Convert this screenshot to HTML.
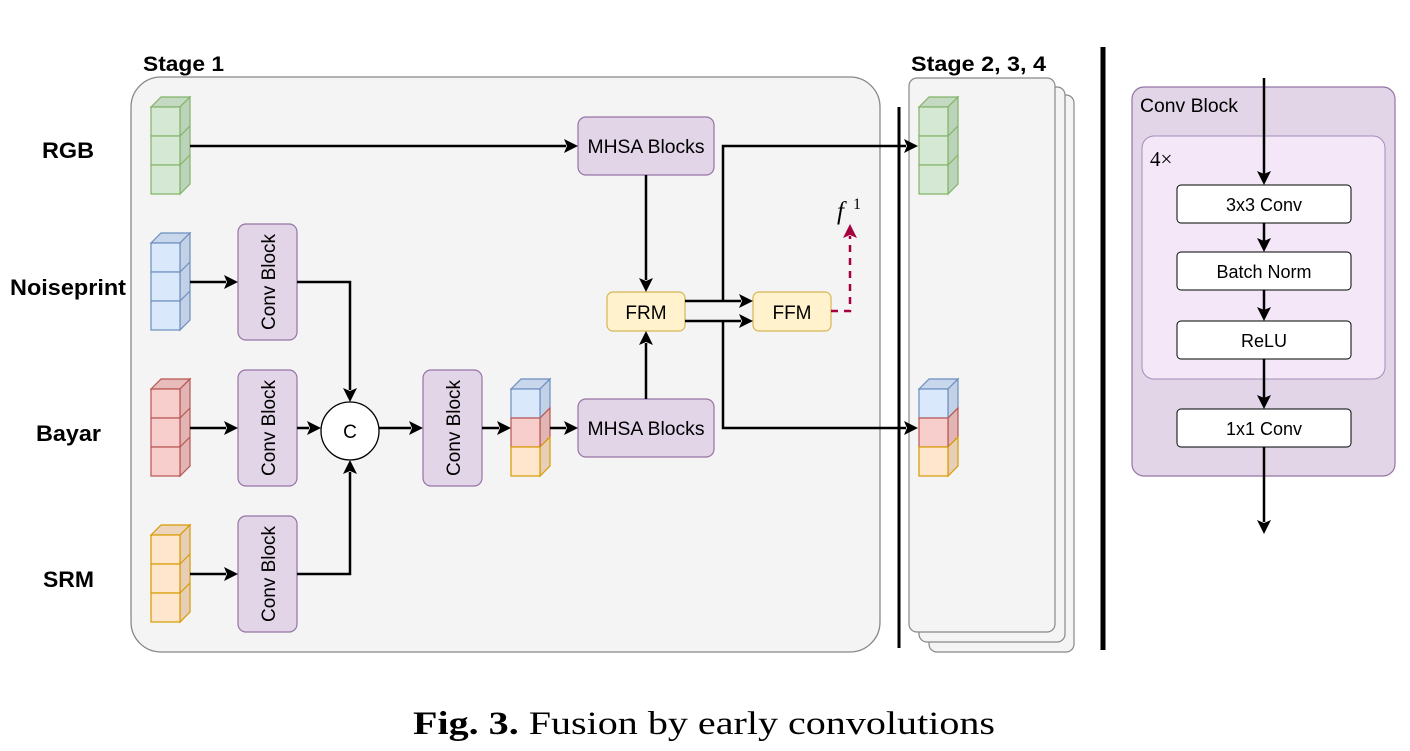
<!DOCTYPE html>
<html><head><meta charset="utf-8"><style>
html,body{margin:0;padding:0;background:#fff;}
svg{display:block;}
</style></head><body>
<svg width="1410" height="751" viewBox="0 0 1410 751" xmlns="http://www.w3.org/2000/svg" font-family="Liberation Sans, sans-serif">
<rect width="1410" height="751" fill="#fff"/>
<text x="143" y="71" font-size="21" font-weight="bold" textLength="81" lengthAdjust="spacingAndGlyphs">Stage 1</text>
<rect x="131" y="77" width="749" height="575" rx="30" fill="#f4f4f4" stroke="#888" stroke-width="1.3"/>
<text x="911" y="71" font-size="21" font-weight="bold" textLength="135" lengthAdjust="spacingAndGlyphs">Stage 2, 3, 4</text>
<rect x="929" y="95" width="145" height="557" rx="8" fill="#f4f4f4" stroke="#888" stroke-width="1.2"/>
<rect x="919" y="87" width="146" height="555" rx="8" fill="#f4f4f4" stroke="#888" stroke-width="1.2"/>
<rect x="909" y="78" width="146" height="554" rx="8" fill="#f4f4f4" stroke="#888" stroke-width="1.2"/>
<line x1="899" y1="107" x2="899" y2="648" stroke="#000" stroke-width="3"/>
<line x1="1103" y1="47" x2="1103" y2="650" stroke="#000" stroke-width="5"/>

<g font-size="22" font-weight="bold">
<text x="42" y="158" textLength="52" lengthAdjust="spacingAndGlyphs">RGB</text>
<text x="10" y="295" textLength="116" lengthAdjust="spacingAndGlyphs">Noiseprint</text>
<text x="36" y="441" textLength="65" lengthAdjust="spacingAndGlyphs">Bayar</text>
<text x="43" y="587" textLength="51" lengthAdjust="spacingAndGlyphs">SRM</text>
</g>

<g stroke-width="1.2">
<g transform="translate(151,107)" fill="#d5e8d4" stroke="#82b366">
<polygon points="0,0 10,-10 39,-10 29,0" fill="#c3d9c2"/><polygon points="29,0 39,-10 39,77 29,87" fill="#bcd3bb"/>
<rect x="0" y="0" width="29" height="29"/><rect x="0" y="29" width="29" height="29"/><rect x="0" y="58" width="29" height="29"/>
<line x1="29" y1="29" x2="39" y2="19"/><line x1="29" y1="58" x2="39" y2="48"/></g>
<g transform="translate(151,243)" fill="#dae8fc" stroke="#6c8ebf">
<polygon points="0,0 10,-10 39,-10 29,0" fill="#c8d7ec"/><polygon points="29,0 39,-10 39,77 29,87" fill="#c3d1e6"/>
<rect x="0" y="0" width="29" height="29"/><rect x="0" y="29" width="29" height="29"/><rect x="0" y="58" width="29" height="29"/>
<line x1="29" y1="29" x2="39" y2="19"/><line x1="29" y1="58" x2="39" y2="48"/></g>
<g transform="translate(151,389)" fill="#f8cecc" stroke="#b85450">
<polygon points="0,0 10,-10 39,-10 29,0" fill="#e8bcbb"/><polygon points="29,0 39,-10 39,77 29,87" fill="#e0b5b4"/>
<rect x="0" y="0" width="29" height="29"/><rect x="0" y="29" width="29" height="29"/><rect x="0" y="58" width="29" height="29"/>
<line x1="29" y1="29" x2="39" y2="19"/><line x1="29" y1="58" x2="39" y2="48"/></g>
<g transform="translate(151,535)" fill="#ffe6cc" stroke="#d79b00">
<polygon points="0,0 10,-10 39,-10 29,0" fill="#ecd5bc"/><polygon points="29,0 39,-10 39,77 29,87" fill="#e6cfb6"/>
<rect x="0" y="0" width="29" height="29"/><rect x="0" y="29" width="29" height="29"/><rect x="0" y="58" width="29" height="29"/>
<line x1="29" y1="29" x2="39" y2="19"/><line x1="29" y1="58" x2="39" y2="48"/></g>
<g transform="translate(919,107)" fill="#d5e8d4" stroke="#82b366">
<polygon points="0,0 10,-10 39,-10 29,0" fill="#c3d9c2"/><polygon points="29,0 39,-10 39,77 29,87" fill="#bcd3bb"/>
<rect x="0" y="0" width="29" height="29"/><rect x="0" y="29" width="29" height="29"/><rect x="0" y="58" width="29" height="29"/>
<line x1="29" y1="29" x2="39" y2="19"/><line x1="29" y1="58" x2="39" y2="48"/></g>
</g>
<g stroke-width="1.2">
<g transform="translate(511,389)">
<polygon points="0,0 10,-10 39,-10 29,0" fill="#c8d7ec" stroke="#6c8ebf"/>
<polygon points="29,0 39,-10 39,19 29,29" fill="#c3d1e6" stroke="#6c8ebf"/>
<polygon points="29,29 39,19 39,48 29,58" fill="#e0b5b4" stroke="#b85450"/>
<polygon points="29,58 39,48 39,77 29,87" fill="#e6cfb6" stroke="#d79b00"/>
<rect x="0" y="0" width="29" height="29" fill="#dae8fc" stroke="#6c8ebf"/>
<rect x="0" y="29" width="29" height="29" fill="#f8cecc" stroke="#b85450"/>
<rect x="0" y="58" width="29" height="29" fill="#ffe6cc" stroke="#d79b00"/></g>
<g transform="translate(919,389)">
<polygon points="0,0 10,-10 39,-10 29,0" fill="#c8d7ec" stroke="#6c8ebf"/>
<polygon points="29,0 39,-10 39,19 29,29" fill="#c3d1e6" stroke="#6c8ebf"/>
<polygon points="29,29 39,19 39,48 29,58" fill="#e0b5b4" stroke="#b85450"/>
<polygon points="29,58 39,48 39,77 29,87" fill="#e6cfb6" stroke="#d79b00"/>
<rect x="0" y="0" width="29" height="29" fill="#dae8fc" stroke="#6c8ebf"/>
<rect x="0" y="29" width="29" height="29" fill="#f8cecc" stroke="#b85450"/>
<rect x="0" y="58" width="29" height="29" fill="#ffe6cc" stroke="#d79b00"/></g>
</g>

<g fill="#e1d5e7" stroke="#9673a6" stroke-width="1.2">
<rect x="238" y="224" width="59" height="116" rx="8"/>
<rect x="238" y="370" width="59" height="116" rx="8"/>
<rect x="238" y="516" width="59" height="116" rx="8"/>
<rect x="423" y="370" width="59" height="116" rx="8"/>
<rect x="578" y="117" width="136" height="58" rx="8"/>
<rect x="578" y="399" width="136" height="58" rx="8"/>
</g>
<g font-size="19" text-anchor="middle">
<text transform="translate(275,282) rotate(-90)" textLength="96" lengthAdjust="spacingAndGlyphs">Conv Block</text>
<text transform="translate(275,428) rotate(-90)" textLength="96" lengthAdjust="spacingAndGlyphs">Conv Block</text>
<text transform="translate(275,574) rotate(-90)" textLength="96" lengthAdjust="spacingAndGlyphs">Conv Block</text>
<text transform="translate(460,428) rotate(-90)" textLength="96" lengthAdjust="spacingAndGlyphs">Conv Block</text>
<text x="646" y="153" textLength="117" lengthAdjust="spacingAndGlyphs">MHSA Blocks</text>
<text x="646" y="435" textLength="117" lengthAdjust="spacingAndGlyphs">MHSA Blocks</text>
</g>
<circle cx="350" cy="431" r="29" fill="#fff" stroke="#000" stroke-width="1.3"/>
<text x="350" y="438" font-size="19" text-anchor="middle">C</text>
<g fill="#fff2cc" stroke="#d6b656" stroke-width="1.2">
<rect x="607" y="292" width="78" height="39" rx="6"/>
<rect x="753" y="292" width="78" height="39" rx="6"/>
</g>
<g font-size="19" text-anchor="middle">
<text x="646" y="319">FRM</text><text x="792" y="319">FFM</text>
</g>

<g stroke="#000" stroke-width="2.5" fill="none">
<path d="M190,146 H566"/>
<path d="M190,282 H226"/>
<path d="M190,428 H226"/>
<path d="M190,574 H226"/>
<path d="M297,282 H350 V390"/>
<path d="M297,574 H350 V472"/>
<path d="M297,428 H309"/>
<path d="M379,428 H411"/>
<path d="M482,428 H499"/>
<path d="M550,428 H566"/>
<path d="M646,175 V280"/>
<path d="M646,399 V343"/>
<path d="M685,301 H741"/>
<path d="M685,321 H741"/>
<path d="M723,301 V146 H906"/>
<path d="M723,321 V428 H906"/>
</g>
<g fill="#000">
<polygon points="578,146 564,139 567,146 564,153"/>
<polygon points="238,282 224,275 227,282 224,289"/>
<polygon points="238,428 224,421 227,428 224,435"/>
<polygon points="238,574 224,567 227,574 224,581"/>
<polygon points="321,428 307,421 310,428 307,435"/>
<polygon points="423,428 409,421 412,428 409,435"/>
<polygon points="511,428 497,421 500,428 497,435"/>
<polygon points="578,428 564,421 567,428 564,435"/>
<polygon points="350,402 343,388 350,391 357,388"/>
<polygon points="350,460 343,474 350,471 357,474"/>
<polygon points="646,292 639,278 646,281 653,278"/>
<polygon points="646,331 639,345 646,342 653,345"/>
<polygon points="753,301 739,294 742,301 739,308"/>
<polygon points="753,321 739,314 742,321 739,328"/>
<polygon points="918,146 904,139 907,146 904,153"/>
<polygon points="918,428 904,421 907,428 904,435"/>
</g>
<path d="M831,311 H850 V236" stroke="#a50040" stroke-width="2.5" fill="none" stroke-dasharray="7,6"/>
<polygon points="850,224 843,238 850,235 857,238" fill="#a50040"/>
<text x="837" y="219" font-family="Liberation Serif, serif" font-style="italic" font-size="25">f</text>
<text x="853" y="209" font-family="Liberation Serif, serif" font-size="16">1</text>

<rect x="1132" y="87" width="263" height="389" rx="12" fill="#e1d5e7" stroke="#9673a6" stroke-width="1.2"/>
<text x="1140" y="112" font-size="19" textLength="98" lengthAdjust="spacingAndGlyphs">Conv Block</text>
<rect x="1142" y="136" width="243" height="243" rx="12" fill="#f3e7f8" stroke="#a98bb8" stroke-width="1"/>
<text x="1150" y="166" font-family="Liberation Serif, serif" font-size="21">4×</text>
<g fill="#fff" stroke="#000" stroke-width="1">
<rect x="1177" y="185" width="174" height="38" rx="4"/>
<rect x="1177" y="252" width="174" height="38" rx="4"/>
<rect x="1177" y="321" width="174" height="38" rx="4"/>
<rect x="1177" y="409" width="174" height="38" rx="4"/>
</g>
<g font-size="18" text-anchor="middle">
<text x="1264" y="211">3x3 Conv</text>
<text x="1264" y="278">Batch Norm</text>
<text x="1264" y="347">ReLU</text>
<text x="1264" y="435">1x1 Conv</text>
</g>
<g stroke="#000" stroke-width="2.5">
<line x1="1264" y1="78" x2="1264" y2="174"/>
<line x1="1264" y1="223" x2="1264" y2="242"/>
<line x1="1264" y1="290" x2="1264" y2="311"/>
<line x1="1264" y1="359" x2="1264" y2="399"/>
<line x1="1264" y1="447" x2="1264" y2="522"/>
</g>
<g fill="#000">
<polygon points="1264,185 1257,171 1264,174 1271,171"/>
<polygon points="1264,252 1257,238 1264,241 1271,238"/>
<polygon points="1264,321 1257,307 1264,310 1271,307"/>
<polygon points="1264,409 1257,395 1264,398 1271,395"/>
<polygon points="1264,534 1257,520 1264,523 1271,520"/>
</g>

<text x="413" y="734" font-family="Liberation Serif, serif" font-size="33" textLength="582" lengthAdjust="spacingAndGlyphs"><tspan font-weight="bold">Fig. 3.</tspan> Fusion by early convolutions</text>
</svg>
</body></html>
